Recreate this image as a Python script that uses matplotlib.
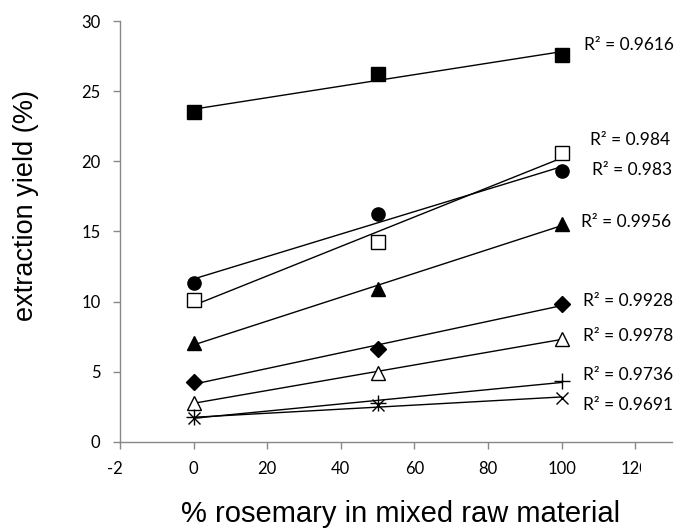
import matplotlib
matplotlib.use('Agg')
import matplotlib.pyplot as plt
import numpy as np
from matplotlib.transforms import Bbox, TransformedBbox

# % rosemary in the mixed raw material
x_pct = [0, 50, 100]

# extraction yield (%) per series
yield_filled_square = [23.5, 26.2, 27.6]
yield_open_square = [10.1, 14.25, 20.6]
yield_filled_circle = [11.3, 16.25, 19.3]
yield_filled_triangle = [7.05, 10.9, 15.55]
yield_diamond = [4.25, 6.65, 9.85]
yield_open_triangle = [2.8, 4.95, 7.35]
yield_plus = [1.8, 2.75, 4.35]
yield_cross = [1.7, 2.6, 3.15]

r2_labels = ['R² = 0.9616', 'R² = 0.984', 'R² = 0.983', 'R² = 0.9956',
             'R² = 0.9928', 'R² = 0.9978', 'R² = 0.9736', 'R² = 0.9691']

x_ticks = [-20, 0, 20, 40, 60, 80, 100, 120]
y_ticks = [0, 5, 10, 15, 20, 25, 30]

# marker style per series: (marker, face colour, size)
series = [
    (yield_filled_square, 's', 'black', 10),
    (yield_open_square, 's', 'white', 10),
    (yield_filled_circle, 'o', 'black', 9.5),
    (yield_filled_triangle, '^', 'black', 10),
    (yield_diamond, 'D', 'black', 8.5),
    (yield_open_triangle, '^', 'white', 10),
    (yield_plus, '+', 'black', 11),
    (yield_cross, 'x', 'black', 9),
]
# where the R² labels sit (data coords)
label_x = [106, 107.6, 108.2, 105.2, 105.7, 105.7, 105.7, 105.7]
label_y = [28.3, 21.5, 19.4, 15.7, 10.05, 7.55, 4.8, 2.65]

fig = plt.figure(figsize=(6.77, 5.29), dpi=100)
ax = fig.add_axes([0.1773, 0.1645, 0.8153, 0.7958])

for vals, mk, fc, ms in series:
    # linear trendline over the data range
    k, b = np.polyfit(x_pct, vals, 1)
    xs = np.array([x_pct[0], x_pct[-1]])
    ax.plot(xs, k * xs + b, color='black', lw=1.0, zorder=2)
    ax.plot(x_pct, vals, linestyle='none', marker=mk, ms=ms,
            mfc=fc, mec='black', mew=1.0, zorder=3, clip_on=False)

for lx, ly, txt in zip(label_x, label_y, r2_labels):
    ax.text(lx, ly, txt, ha='left', va='center', fontsize=12.5,
            family='Lato', color='black')

ax.set_xlim(-20, 130)
ax.set_ylim(0, 30)
ax.set_xticks(x_ticks)
ax.set_yticks(y_ticks)
ax.set_xticklabels([str(v) for v in x_ticks], family='Lato', fontsize=12)
ax.set_yticklabels([str(v) for v in y_ticks], family='Lato', fontsize=12)

for s in ['top', 'right']:
    ax.spines[s].set_visible(False)
for s in ['left', 'bottom']:
    ax.spines[s].set_color('#888888')
    ax.spines[s].set_linewidth(1.0)
ax.tick_params(direction='out', length=5, width=1.0, color='#888888')
ax.tick_params(axis='x', pad=9)
ax.tick_params(axis='y', pad=9)

ax.set_xlabel('% rosemary in mixed raw material', family='Liberation Sans',
              fontsize=21, va='center')
ax.set_ylabel('extraction yield (%)', family='Liberation Sans',
              fontsize=19.5, va='center')
ax.xaxis.set_label_coords(0.509, -0.171)
ax.yaxis.set_label_coords(-0.170, 0.562)

# the outer tick labels are cut off in the original chart
labs = ax.get_xticklabels()
labs[0].set_clip_on(True)
labs[0].set_clip_box(TransformedBbox(Bbox([[0, 0], [122 / 677, 1]]), fig.transFigure))
labs[-1].set_clip_on(True)
labs[-1].set_clip_box(TransformedBbox(Bbox([[0, 0], [641 / 677, 1]]), fig.transFigure))

fig.savefig('out.png', dpi=100)
